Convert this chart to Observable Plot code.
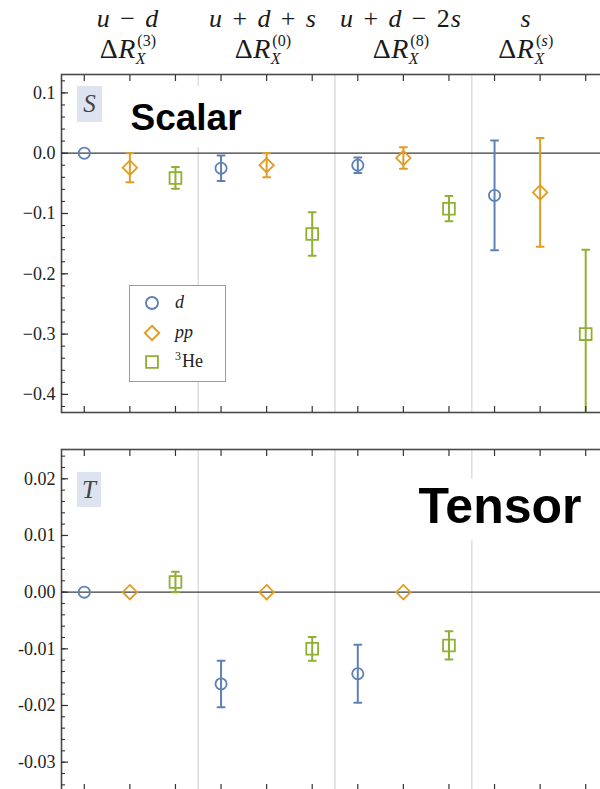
<!DOCTYPE html>
<html>
<head>
<meta charset="utf-8">
<script src="https://cdn.jsdelivr.net/npm/d3@7"></script>
<script src="https://cdn.jsdelivr.net/npm/@observablehq/plot@0.6"></script>
<style>
html, body { margin: 0; padding: 0; background: #fff; overflow: hidden; }
#wrap { position: relative; width: 600px; height: 789px; overflow: hidden; font-family: "Liberation Serif", serif; }
.abs { position: absolute; }
.badge { position: absolute; background: #dde3ef; color: #444; font-family: "Liberation Serif", serif; font-style: italic; font-size: 25px; display: flex; align-items: center; justify-content: center; }
#legend { position: absolute; left: 129px; top: 285px; width: 97px; height: 97px; border: 1px solid #9a9a9a; background: #fff; box-sizing: border-box; }
</style>
</head>
<body>
<div id="wrap"></div>
<script>
// ---------------- data ----------------
const groups = ["u − d", "u + d + s", "u + d − 2s", "s"];
const groupIndices = ["(3)", "(0)", "(8)", "(s)"];
const nuclei = ["d", "pp", "3He"];
const nucleusColors = ["#5E81B5", "#E19C24", "#8FB032"];
const nucleusSymbols = ["circle", "diamond2", "square2"];

const scalarValues = [0.000, -0.024, -0.041, -0.025, -0.020, -0.134, -0.020, -0.008, -0.092, -0.070, -0.065, -0.300];
const scalarErrors = [0.000, 0.024, 0.018, 0.021, 0.020, 0.036, 0.013, 0.018, 0.021, 0.091, 0.090, 0.140];

const tensorValues = [0.0000, 0.0000, 0.0018, -0.0162, 0.0000, -0.0100, -0.0144, 0.0000, -0.0094, null, null, null];
const tensorErrors = [0.0000, 0.0000, 0.0018, 0.0041, 0.0000, 0.0021, 0.0051, 0.0000, 0.0025, null, null, null];

const scalarTicks = [0.1, 0.0, -0.1, -0.2, -0.3, -0.4];
const scalarTickLabels = ["0.1", "0.0", "−0.1", "−0.2", "−0.3", "−0.4"];
const tensorTicks = [0.02, 0.01, 0.00, -0.01, -0.02, -0.03];
const tensorTickLabels = ["0.02", "0.01", "0.00", "-0.01", "-0.02", "-0.03"];

// ---------------- helpers ----------------
function toRows(values, errors) {
  return values.map((v, i) => ({
    pos: i + 1,
    group: groups[Math.floor(i / nuclei.length)],
    nucleus: nuclei[i % nuclei.length],
    value: v,
    err: errors[i]
  })).filter(d => d.value != null);
}
const positions = d3.range(1, groups.length * nuclei.length + 1);
const separators = d3.range(1, groups.length).map(g => g * nuclei.length + 0.5);
const symbolR = [5.6, 6.5, 7.5];
const capShape = { draw(ctx, l) { ctx.moveTo(-l / 2, 0); ctx.lineTo(l / 2, 0); } };
const serif = "'Liberation Serif', 'Times New Roman', serif";
const sans = "'Liberation Sans', Arial, Helvetica, sans-serif";

function panel({data, domain, ticks, tickLabels, minorStep, height, marginTop, marginBottom, title, titleDx, titleDy, titleSize, halo}) {
  const minor = d3.range(Math.ceil(domain[0] / minorStep - 1e-9), Math.floor(domain[1] / minorStep + 1e-9) + 1).map(k => +(k * minorStep).toFixed(6));
  const marks = [
    Plot.ruleX(separators, {stroke: "#dedede", strokeWidth: 1.6}),
    Plot.ruleY([0], {stroke: "#3a3a3a", strokeWidth: 1.3}),
    Plot.text([title], {text: d => d, frameAnchor: "top-left", textAnchor: "start", lineAnchor: "top",
      dx: titleDx, dy: titleDy, fontSize: titleSize, fontWeight: "bold", fontFamily: sans,
      fill: "#000", stroke: "#fff", strokeWidth: halo, strokeLinejoin: "round"})
  ];
  nuclei.forEach((n, k) => {
    const sub = data.filter(d => d.nucleus === n);
    const withErr = sub.filter(d => d.err > 0);
    const color = nucleusColors[k];
    marks.push(
      Plot.ruleX(withErr, {x: "pos", y1: d => d.value - d.err, y2: d => d.value + d.err, stroke: color, strokeWidth: 2, clip: true}),
      Plot.vector(withErr, {x: "pos", y: d => d.value + d.err, length: 7, anchor: "start", shape: capShape, stroke: color, strokeWidth: 2, clip: true}),
      Plot.vector(withErr, {x: "pos", y: d => d.value - d.err, length: 7, anchor: "start", shape: capShape, stroke: color, strokeWidth: 2, clip: true}),
      Plot.dot(sub, {x: "pos", y: "value", symbol: nucleusSymbols[k], r: symbolR[k], stroke: color, strokeWidth: 1.8, fill: "none"})
    );
  });
  marks.push(
    Plot.frame({stroke: "#4a4a4a", strokeWidth: 1.6}),
    Plot.axisY(ticks, {tickSize: -7, fill: "none", stroke: "#333", strokeWidth: 1.2, label: null}),
    Plot.axisY(minor, {tickSize: -4, fill: "none", stroke: "#333", strokeWidth: 1.1, label: null}),
    Plot.axisX(positions, {anchor: "top", tickSize: -6, fill: "none", stroke: "#333", strokeWidth: 1.2, label: null}),
    Plot.axisX(positions, {anchor: "bottom", tickSize: -6, fill: "none", stroke: "#333", strokeWidth: 1.2, label: null}),
    Plot.text(ticks, {y: d => d, text: (d, i) => tickLabels[i], frameAnchor: "left", textAnchor: "end", dx: -6,
      fontSize: 18, fontFamily: serif, fill: "#222"})
  );
  return Plot.plot({
    width: 600, height, marginLeft: 61, marginRight: -8, marginTop, marginBottom,
    x: {domain: [0.5, groups.length * nuclei.length + 0.5]},
    y: {domain},
    style: {background: "transparent", overflow: "hidden"},
    marks
  });
}

// ---------------- layout ----------------
const wrap = document.getElementById("wrap");

// header (one text element per column: operator line + ΔR with stacked scripts)
const header = d3.select(wrap).append("svg").attr("class", "abs").style("left", 0).style("top", 0)
  .attr("width", 600).attr("height", 72).attr("font-family", serif);
const measurer = header.append("text").attr("visibility", "hidden");
function textWidth(str, size, italic) {
  measurer.attr("font-size", size).attr("font-style", italic ? "italic" : "normal").text(str);
  return measurer.node().getComputedTextLength();
}
function pieces(str) {
  return str.split(/([A-Za-z])/).filter(t => t).map(t => ({t, it: /^[A-Za-z]$/.test(t)}));
}
const headerCenters = [128, 263, 401, 526];
const l1Size = 26, l2Size = 28, scriptSize = 16;
groups.forEach((g, i) => {
  const cx = headerCenters[i];
  const txt = header.append("text").attr("fill", "#1a1a1a");
  // line 1: tokens separated by math spacing
  const gap = 0.36 * l1Size;
  const tokens = g.split(" ").map(tok => pieces(tok).map(p => ({...p, w: textWidth(p.t, l1Size, p.it) + 1})));
  const total1 = d3.sum(tokens, tk => d3.sum(tk, p => p.w)) + gap * (tokens.length - 1);
  let x = cx - total1 / 2;
  tokens.forEach((tk, j) => {
    if (j > 0) x += gap;
    tk.forEach(p => {
      txt.append("tspan").attr("x", x).attr("y", 26.5).attr("font-size", l1Size)
        .attr("font-style", p.it ? "italic" : "normal").text(p.t);
      x += p.w;
    });
  });
  // line 2: Δ R with superscript index and subscript X
  const wD = textWidth("Δ", l2Size, false) + 0.5, wR = textWidth("R", l2Size, true) + 1;
  const supP = pieces(groupIndices[i]).map(p => ({...p, w: textWidth(p.t, scriptSize, p.it) + 0.3}));
  const wSup = d3.sum(supP, p => p.w), wX = textWidth("X", scriptSize, true);
  const total2 = wD + wR + Math.max(1 + wSup, wX);
  let x2 = cx - total2 / 2;
  txt.append("tspan").attr("x", x2).attr("y", 58).attr("font-size", l2Size).text("Δ");
  txt.append("tspan").attr("x", x2 + wD).attr("y", 58).attr("font-size", l2Size).attr("font-style", "italic").text("R");
  let xs = x2 + wD + wR + 1;
  supP.forEach(p => {
    txt.append("tspan").attr("x", xs).attr("y", 45.5).attr("font-size", scriptSize).attr("font-style", p.it ? "italic" : "normal").text(p.t);
    xs += p.w;
  });
  txt.append("tspan").attr("x", x2 + wD + wR - 0.5).attr("y", 64).attr("font-size", scriptSize).attr("font-style", "italic").text("X");
});
measurer.remove();

// scalar panel
const scalarPlot = panel({
  data: toRows(scalarValues, scalarErrors),
  domain: [-0.43, 0.1305], ticks: scalarTicks, tickLabels: scalarTickLabels, minorStep: 0.02,
  height: 350, marginTop: 4, marginBottom: 8,
  title: "Scalar", titleDx: 69, titleDy: 29, titleSize: 37, halo: 34
});
scalarPlot.style.position = "absolute"; scalarPlot.style.left = "0px"; scalarPlot.style.top = "70px";
wrap.appendChild(scalarPlot);

// tensor panel
const tensorPlot = panel({
  data: toRows(tensorValues, tensorErrors),
  domain: [-0.0350, 0.02517], ticks: tensorTicks, tickLabels: tensorTickLabels, minorStep: 0.002,
  height: 350, marginTop: 9, marginBottom: 0,
  title: "Tensor", titleDx: 357, titleDy: 38, titleSize: 50, halo: 36
});
tensorPlot.style.position = "absolute"; tensorPlot.style.left = "0px"; tensorPlot.style.top = "440px";
wrap.appendChild(tensorPlot);

// panel badges
[["S", 77, 86, 25, 36], ["T", 77, 472, 24, 35]].forEach(([s, x, y, w, h]) => {
  const b = document.createElement("div");
  b.className = "badge";
  Object.assign(b.style, {left: x + "px", top: y + "px", width: w + "px", height: h + "px"});
  b.textContent = s;
  wrap.appendChild(b);
});

// legend
const legend = document.createElement("div");
legend.id = "legend";
wrap.appendChild(legend);
const lsvg = d3.select(legend).append("svg").attr("width", 95).attr("height", 95).attr("font-family", serif).attr("font-size", 18);
const legendRows = [18, 48, 77];
nuclei.forEach((n, k) => {
  const y = legendRows[k] - 1;
  const r = symbolR[k];
  if (nucleusSymbols[k] === "circle") {
    lsvg.append("circle").attr("cx", 22).attr("cy", y).attr("r", r + 0.4).attr("fill", "none").attr("stroke", nucleusColors[k]).attr("stroke-width", 1.9);
  } else {
    const sym = nucleusSymbols[k] === "diamond2" ? d3.symbolDiamond2 : d3.symbolSquare2;
    lsvg.append("path").attr("transform", `translate(22,${y})`).attr("d", d3.symbol(sym, r * r * Math.PI)())
      .attr("fill", "none").attr("stroke", nucleusColors[k]).attr("stroke-width", 1.9);
  }
  const t = lsvg.append("text").attr("x", 45).attr("y", y + 5).attr("fill", "#222");
  if (n === "3He") {
    t.append("tspan").attr("font-size", 12).attr("dy", -7).text("3");
    t.append("tspan").attr("dy", 7).attr("dx", 1).text("He");
  } else {
    t.append("tspan").attr("font-style", "italic").text(n);
  }
});
</script>
</body>
</html>
